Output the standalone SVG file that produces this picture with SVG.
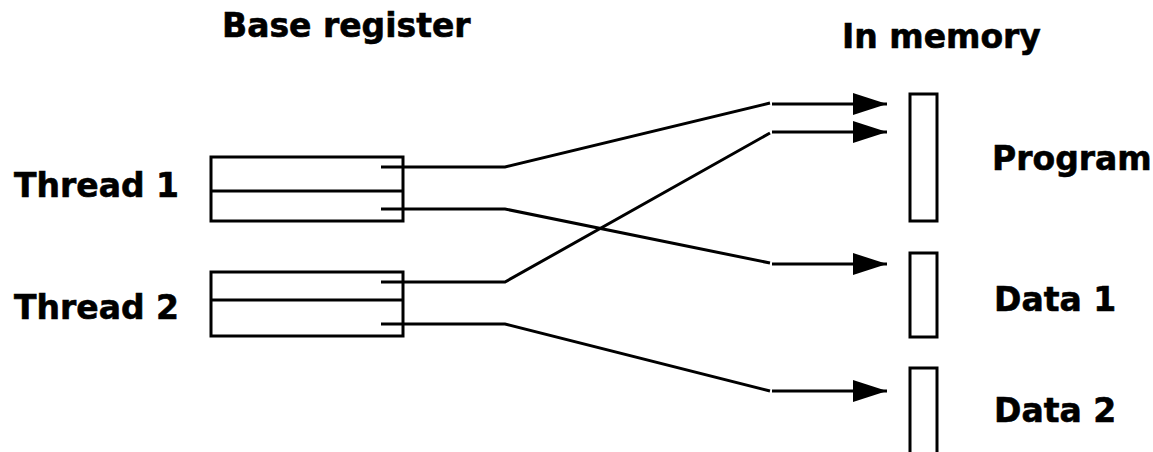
<svg xmlns="http://www.w3.org/2000/svg" width="1153" height="452" viewBox="0 0 1153 452">
<style>
.t{font-family:"DejaVu Sans","Verdana",sans-serif;font-weight:bold;font-size:33px;fill:#000;stroke:#000;stroke-width:0.6}
.box{fill:#fff;stroke:#000;stroke-width:3}
.c{fill:none;stroke:#000;stroke-width:3}
</style>
<defs>
<marker id="ah" markerWidth="34" markerHeight="22" refX="34" refY="11" orient="auto" markerUnits="userSpaceOnUse">
<path d="M0,0 L34,11 L0,22 Z" fill="#000"/>
</marker>
</defs>
<rect width="1153" height="452" fill="#fff"/>
<text class="t" x="222" y="37">Base register</text>
<text class="t" x="842" y="48">In memory</text>
<g id="thread1">
<rect class="box" x="211" y="157" width="192" height="64"/>
<line class="c" x1="211" y1="191" x2="403" y2="191"/>
<text class="t" x="14" y="197">Thread 1</text>
</g>
<g id="thread2">
<rect class="box" x="211" y="272" width="192" height="64"/>
<line class="c" x1="211" y1="300" x2="403" y2="300"/>
<text class="t" x="14" y="319">Thread 2</text>
</g>
<g id="program">
<rect class="box" x="910" y="94" width="27" height="127"/>
<text class="t" x="992" y="170">Program</text>
</g>
<g id="data1">
<rect class="box" x="910" y="253" width="27" height="84"/>
<text class="t" x="994" y="311">Data 1</text>
</g>
<g id="data2">
<rect class="box" x="910" y="368" width="27" height="100"/>
<text class="t" x="994" y="422">Data 2</text>
</g>
<g id="connectors">
<polyline class="c" points="381,167 505,167 770,103"/>
<line class="c" x1="772" y1="104" x2="887" y2="104" marker-end="url(#ah)"/>
<polyline class="c" points="381,209 505,209 770,263"/>
<line class="c" x1="772" y1="264" x2="887" y2="264" marker-end="url(#ah)"/>
<polyline class="c" points="381,282 505,282 770,133"/>
<line class="c" x1="772" y1="132" x2="887" y2="132" marker-end="url(#ah)"/>
<polyline class="c" points="381,324 505,324 770,391"/>
<line class="c" x1="772" y1="391" x2="887" y2="391" marker-end="url(#ah)"/>
</g>
</svg>
